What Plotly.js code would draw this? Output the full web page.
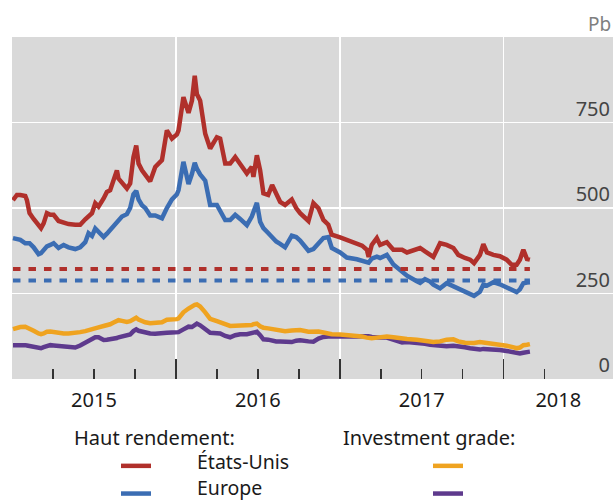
<!DOCTYPE html>
<html><head><meta charset="utf-8">
<script src="https://cdn.plot.ly/plotly-3.0.1.min.js"></script>
<style>html,body{margin:0;padding:0;background:#fff}#chart{width:613px;height:500px}</style>
</head><body><div id="chart"></div>
<script>
// time in decimal years
const dates = [2015.006,2015.030,2015.051,2015.081,2015.091,2015.107,2015.132,2015.162,2015.177,2015.193,
2015.213,2015.234,2015.254,2015.284,2015.315,2015.345,2015.386,2015.416,2015.447,2015.467,
2015.488,2015.508,2015.528,2015.559,2015.579,2015.599,2015.620,2015.640,2015.650,2015.671,
2015.701,2015.721,2015.741,2015.758,2015.772,2015.793,2015.813,2015.843,2015.874,2015.915,
2015.945,2015.976,2016.006,2016.016,2016.046,2016.077,2016.098,2016.115,2016.128,2016.148,
2016.179,2016.209,2016.250,2016.270,2016.301,2016.331,2016.362,2016.392,2016.433,2016.463,
2016.473,2016.494,2016.514,2016.534,2016.563,2016.587,2016.612,2016.636,2016.666,2016.707,
2016.734,2016.758,2016.809,2016.839,2016.870,2016.900,2016.930,2016.951,2017.002,2017.043,
2017.104,2017.136,2017.165,2017.176,2017.195,2017.226,2017.246,2017.287,2017.327,2017.380,
2017.410,2017.470,2017.490,2017.520,2017.551,2017.571,2017.612,2017.652,2017.693,2017.723,
2017.764,2017.795,2017.819,2017.855,2017.876,2017.898,2017.937,2017.977,2018.018,2018.049,
2018.079,2018.099,2018.120,2018.142,2018.160];

// Haut rendement (high yield), Pb
const usHY = [523,538,538,535,523,485,468,451,441,455,
485,480,480,462,457,453,451,451,467,475,
485,514,504,528,547,552,581,610,586,572,
557,572,649,683,630,610,596,578,620,640,
727,703,715,727,824,778,814,887,833,814,
717,674,707,703,630,630,649,630,601,620,
591,654,610,543,538,567,540,518,509,525,
500,485,462,514,499,465,451,422,414,407,
397,390,378,357,392,412,392,400,378,378,
370,378,383,373,363,357,397,392,383,363,
354,349,339,363,394,370,363,359,349,334,
334,349,378,351,349];
const euHY = [412,410,407,397,397,397,385,365,368,378,
388,392,397,383,392,385,380,385,400,426,
418,440,430,415,425,436,445,455,460,475,
482,500,540,550,525,508,500,478,478,470,
500,525,540,552,635,570,600,632,615,598,
580,509,509,494,465,465,480,468,450,475,
489,515,460,441,427,415,402,395,385,419,
415,405,375,380,398,412,415,383,370,355,
350,347,342,340,352,358,354,363,335,312,
302,286,281,292,285,276,265,280,271,264,
255,249,243,255,276,273,283,277,267,259,
254,262,280,282,283];
// Investment grade, Pb
const usIG = [146,150,152,153,150,146,141,133,131,133,
138,139,137,136,133,133,134,137,140,142,
145,148,151,155,157,160,165,170,172,170,
167,169,175,179,174,169,166,163,163,166,
173,173,175,177,195,206,213,217,218,212,
195,176,169,166,158,155,156,156,156,158,
160,162,154,150,148,146,143,141,140,142,
143,143,138,140,139,136,133,131,130,129,
128,124,121,119,119,121,123,124,122,118,
117,115,114,112,110,108,110,115,116,110,
106,104,105,108,107,105,103,100,97,94,
90,92,99,100,102];
const euIG = [99,100,101,99,98,97,95,91,90,93,
97,99,98,97,97,95,92,98,105,110,
117,122,122,114,115,116,118,120,122,124,
127,130,140,145,141,138,136,133,132,132,
135,136,136,137,145,153,152,158,162,157,
144,135,134,133,126,122,128,131,131,134,
135,138,128,116,115,112,110,110,108,108,
112,113,110,109,118,123,124,124,123,121,
124,125,126,125,123,121,121,121,114,107,
108,107,106,103,100,99,95,96,97,96,
93,90,88,86,88,88,86,85,82,79,
77,75,77,79,80];
// long-term averages (dashed)
const usHYavg = 322;
const euHYavg = 288;

const yearLabels = ['2015','2016','2017','2018'];
const yearLabelPos = [2015.5, 2016.5, 2017.5, 2018.333];
const yTicks = [0, 250, 500, 750];

const RED = '#B0302B', BLUE = '#3B6DB3', ORANGE = '#EFA320', PURPLE = '#5E3A8D';

const first = dates[0], last = dates[dates.length - 1];
const traces = [
  {x: [first, last], y: [usHYavg, usHYavg], xaxis: 'x2', mode: 'lines', showlegend: false, hoverinfo: 'skip',
   line: {color: RED, width: 4, dash: '7.5px,8px'}},
  {x: [first, last], y: [euHYavg, euHYavg], xaxis: 'x2', mode: 'lines', showlegend: false, hoverinfo: 'skip',
   line: {color: BLUE, width: 4, dash: '7.5px,8px'}},
  {x: dates, y: euIG, mode: 'lines', name: '', legend: 'legend2', line: {color: PURPLE, width: 4.5}},
  {x: dates, y: usIG, mode: 'lines', name: '', legend: 'legend2', line: {color: ORANGE, width: 4.5}},
  {x: dates, y: euHY, mode: 'lines', name: '', legend: 'legend', line: {color: BLUE, width: 4.5}},
  {x: dates, y: usHY, mode: 'lines', name: '', legend: 'legend', line: {color: RED, width: 4.5}}
];

const legendCommon = {xref: 'paper', yref: 'container', yanchor: 'top', xanchor: 'left', y: 0.106,
  bgcolor: 'rgba(0,0,0,0)', font: {size: 19}, traceorder: 'reversed', itemclick: false};

const layout = {
  width: 613, height: 500,
  margin: {l: 12, r: 0, t: 37, b: 121, pad: 0},
  paper_bgcolor: '#ffffff', plot_bgcolor: '#d9d9d9',
  font: {family: 'Noto Sans, sans-serif', size: 20, color: '#1a1a1a'},
  showlegend: true,
  xaxis: {range: [2015, 2018.667], tickmode: 'array', tickvals: yearLabelPos, ticktext: yearLabels,
    ticks: '', showgrid: false, zeroline: false, showline: false, ticklabelstandoff: 7},
  xaxis2: {overlaying: 'x', anchor: 'y', side: 'bottom', range: [2015, 2018.667], tickmode: 'linear', tick0: 2015, dtick: 1,
    ticks: 'inside', ticklen: 20, tickwidth: 1.5, tickcolor: '#333', showticklabels: false,
    showgrid: true, gridcolor: '#ffffff', gridwidth: 1.5, zeroline: false, showline: false,
    minor: {tickmode: 'linear', tick0: 2015, dtick: 0.25, ticks: 'inside', ticklen: 10, tickwidth: 1.5, tickcolor: '#333', showgrid: false}},
  yaxis: {range: [0, 1000], side: 'right', tickmode: 'array', tickvals: yTicks, ticklabelposition: 'inside top',
    ticks: '', showgrid: true, gridcolor: '#ffffff', gridwidth: 1.5, zeroline: false, showline: false},
  legend: Object.assign({}, legendCommon, {x: (116 - 12) / 601}),
  legend2: Object.assign({}, legendCommon, {x: (428 - 12) / 601}),
  annotations: [
    {text: 'Pb', xref: 'paper', yref: 'paper', x: 1, xanchor: 'right', y: (379 - 24) / 342, yanchor: 'middle',
     showarrow: false, font: {size: 19, color: '#7f7f7f'}},
    {text: 'Haut rendement:', xref: 'paper', yref: 'paper', x: (72 - 12) / 601, xanchor: 'left', y: (379 - 437) / 342, yanchor: 'middle', showarrow: false},
    {text: 'Investment grade:', xref: 'paper', yref: 'paper', x: (341 - 12) / 601, xanchor: 'left', y: (379 - 437) / 342, yanchor: 'middle', showarrow: false},
    {text: 'États-Unis', xref: 'paper', yref: 'paper', x: (196 - 12) / 601, xanchor: 'left', y: (379 - 461) / 342, yanchor: 'middle',
     showarrow: false, borderpad: 0, font: {size: 19.5}},
    {text: 'Europe', xref: 'paper', yref: 'paper', x: (196 - 12) / 601, xanchor: 'left', y: (379 - 487) / 342, yanchor: 'middle',
     showarrow: false, borderpad: 0, font: {size: 19.5}}
  ]
};

Plotly.newPlot('chart', traces, layout, {displayModeBar: false, staticPlot: true});
</script>
</body></html>
